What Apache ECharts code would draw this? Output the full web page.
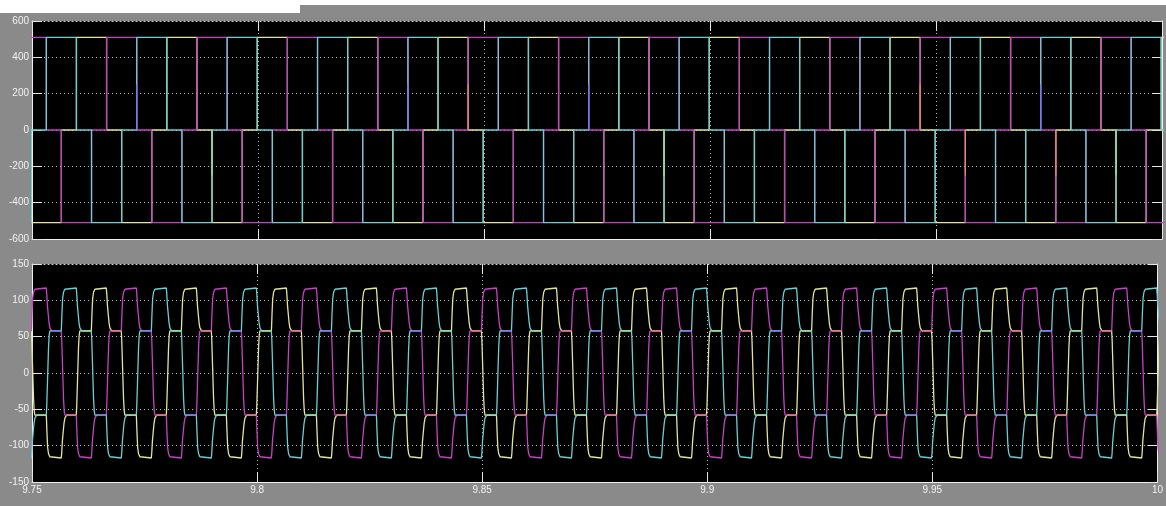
<!DOCTYPE html>
<html>
<head>
<meta charset="utf-8">
<script src="https://cdn.jsdelivr.net/npm/echarts/dist/echarts.min.js"></script>
<style>
  html, body { margin: 0; padding: 0; background: #8a8a8a; }
  #chart { width: 1166px; height: 506px; }
</style>
</head>
<body>
<div id="chart"></div>
<script>
// ---- data ----
// switching instants (s): boundaries between the six 60-degree intervals
const switchTimes = [
  9.74984,
  9.75317, 9.75650, 9.75983, 9.76317, 9.76650, 9.76983, 9.77317, 9.77650, 9.77983,
  9.78317, 9.78650, 9.78983, 9.79317, 9.79650, 9.79983, 9.80317, 9.80650, 9.80983,
  9.81317, 9.81650, 9.81983, 9.82317, 9.82650, 9.82983, 9.83317, 9.83650, 9.83983,
  9.84317, 9.84650, 9.84983, 9.85317, 9.85650, 9.85983, 9.86317, 9.86650, 9.86983,
  9.87317, 9.87650, 9.87983, 9.88317, 9.88650, 9.88983, 9.89317, 9.89650, 9.89983,
  9.90317, 9.90650, 9.90983, 9.91317, 9.91650, 9.91983, 9.92317, 9.92650, 9.92983,
  9.93317, 9.93650, 9.93983, 9.94317, 9.94650, 9.94983, 9.95317, 9.95650, 9.95983,
  9.96317, 9.96650, 9.96983, 9.97317, 9.97650, 9.97983, 9.98317, 9.98650, 9.98983,
  9.99317, 9.99650, 9.99983
];

// top panel: voltage levels (V), first value = level before first switch, then level after each switch
const vYellow = [0,
  -510,-510,0,510,510,0, -510,-510,0,510,510,0, -510,-510,0,510,510,0, -510,-510,0,510,510,0,
  -510,-510,0,510,510,0, -510,-510,0,510,510,0, -510,-510,0,510,510,0, -510,-510,0,510,510,0,
  -510,-510,0,510,510,0, -510,-510,0,510,510,0, -510,-510,0,510,510,0, -510,-510,0,510,510,0,
  -510,-510,0,510];
const vMagenta = [510,
  510,0,-510,-510,0,510, 510,0,-510,-510,0,510, 510,0,-510,-510,0,510, 510,0,-510,-510,0,510,
  510,0,-510,-510,0,510, 510,0,-510,-510,0,510, 510,0,-510,-510,0,510, 510,0,-510,-510,0,510,
  510,0,-510,-510,0,510, 510,0,-510,-510,0,510, 510,0,-510,-510,0,510, 510,0,-510,-510,0,510,
  510,0,-510,-510];
const vCyan = [-510,
  0,510,510,0,-510,-510, 0,510,510,0,-510,-510, 0,510,510,0,-510,-510, 0,510,510,0,-510,-510,
  0,510,510,0,-510,-510, 0,510,510,0,-510,-510, 0,510,510,0,-510,-510, 0,510,510,0,-510,-510,
  0,510,510,0,-510,-510, 0,510,510,0,-510,-510, 0,510,510,0,-510,-510, 0,510,510,0,-510,-510,
  0,510,510,0];

// short half-height switching spikes seen in the top panel (mixed colours)
const spikeTimes = [9.77317, 9.78983, 9.83317, 9.84650, 9.87317, 9.88983, 9.94650, 9.95650, 9.97317, 9.97650, 9.98983];
const spikeTips  = [250, -250, 250, 250, 250, -250, 250, -250, 250, -250, -250];
const spikeKind  = ['MC', 'CY', 'MC', 'MY', 'MC', 'CY', 'MY', 'MY', 'MC', 'MY', 'CY'];

// bottom panel: current levels (A)
const iYellow = [58,
  -58,-117,-58,58,117,58, -58,-117,-58,58,117,58, -58,-117,-58,58,117,58, -58,-117,-58,58,117,58,
  -58,-117,-58,58,117,58, -58,-117,-58,58,117,58, -58,-117,-58,58,117,58, -58,-117,-58,58,117,58,
  -58,-117,-58,58,117,58, -58,-117,-58,58,117,58, -58,-117,-58,58,117,58, -58,-117,-58,58,117,58,
  -58,-117,-58,58];
const iMagenta = [58,
  117,58,-58,-117,-58,58, 117,58,-58,-117,-58,58, 117,58,-58,-117,-58,58, 117,58,-58,-117,-58,58,
  117,58,-58,-117,-58,58, 117,58,-58,-117,-58,58, 117,58,-58,-117,-58,58, 117,58,-58,-117,-58,58,
  117,58,-58,-117,-58,58, 117,58,-58,-117,-58,58, 117,58,-58,-117,-58,58, 117,58,-58,-117,-58,58,
  117,58,-58,-117];
const iCyan = [-117,
  -58,58,117,58,-58,-117, -58,58,117,58,-58,-117, -58,58,117,58,-58,-117, -58,58,117,58,-58,-117,
  -58,58,117,58,-58,-117, -58,58,117,58,-58,-117, -58,58,117,58,-58,-117, -58,58,117,58,-58,-117,
  -58,58,117,58,-58,-117, -58,58,117,58,-58,-117, -58,58,117,58,-58,-117, -58,58,117,58,-58,-117,
  -58,58,117,58];

// edge shapes: time after switch (s) and fraction of the step done
const edgeOutDt   = [0, 0.00005, 0.00015, 0.0003, 0.0005, 0.0008, 0.0012];
const edgeOutFr   = [0, 0.10, 0.40, 0.75, 0.90, 0.97, 1];
const edgeInDt    = [0, 0.0001, 0.00025, 0.00045, 0.0006, 0.0008, 0.0012];
const edgeInFr    = [0, 0.12, 0.40, 0.63, 0.80, 0.93, 1];
const edgeCrossDt = [0, 0.0001, 0.0003, 0.0005, 0.00065, 0.0008];
const edgeCrossFr = [0, 0.10, 0.45, 0.80, 0.95, 1];

// axis ticks
const xTicks = [9.75, 9.8, 9.85, 9.9, 9.95, 10];
const vTicks = [-600, -400, -200, 0, 200, 400, 600];
const iTicks = [-150, -100, -50, 0, 50, 100, 150];

const colYellow = '#e4e49a';
const colMagenta = '#c444c4';
const colCyan = '#6ccfd2';
// colours where two traces lie on top of each other
const mixCols = { MC: '#7474f0', MY: '#ec8070', CY: '#92e292' };

// ---- building the tables for the library ----
function stepPoints(times, levels) {
  const pts = [[times[0] - 0.002, levels[0]]];
  for (let k = 0; k < times.length; k++) {
    pts.push([times[k], levels[k]]);
    pts.push([times[k], levels[k + 1]]);
  }
  pts.push([10.002, levels[levels.length - 1]]);
  return pts;
}
function currentPoints(times, levels) {
  const pts = [[times[0] - 0.002, levels[0]]];
  for (let k = 0; k < times.length; k++) {
    const a = levels[k], b = levels[k + 1];
    if (a === b) continue;
    let dt, fr;
    if (Math.abs(b - a) > 80) { dt = edgeCrossDt; fr = edgeCrossFr; }
    else if (Math.abs(b) > Math.abs(a)) { dt = edgeOutDt; fr = edgeOutFr; }
    else { dt = edgeInDt; fr = edgeInFr; }
    for (let i = 0; i < dt.length; i++) pts.push([times[k] + dt[i], a + (b - a) * fr[i]]);
  }
  pts.push([10.002, levels[levels.length - 1]]);
  return pts;
}
// flat stretches where two currents share the same level, grouped by colour mix
function overlapPoints(times, kind) {
  const pts = [];
  for (let k = 0; k < times.length; k++) {
    const t0 = times[k] + 0.0012;
    const t1 = k + 1 < times.length ? times[k + 1] : 10;
    const y = iYellow[k + 1], m = iMagenta[k + 1], c = iCyan[k + 1];
    let lvl = null, kd = null;
    if (m === c) { lvl = m; kd = 'MC'; }
    else if (m === y) { lvl = m; kd = 'MY'; }
    else if (c === y) { lvl = c; kd = 'CY'; }
    if (kd === kind && t1 > t0) { pts.push([t0, lvl], [t1, lvl], [t1, '-']); }
  }
  return pts;
}
function spikePoints(kind) {
  const pts = [];
  spikeTimes.forEach((t, i) => {
    if (spikeKind[i] === kind) pts.push([t, 0], [t, spikeTips[i]], [t, '-']);
  });
  return pts;
}

const labelStyle = { color: '#f2f2f2', fontSize: 10, fontFamily: 'Liberation Sans, Arial, sans-serif' };
const tickStyle = { color: '#e6e6e6', width: 1 };
const dotStyle = { color: '#bdbdbd', width: 1, type: [1, 3] };

function xAxes(grid, showLabels) {
  return [
    { type: 'value', gridIndex: grid, position: 'bottom', min: xTicks[0], max: xTicks[xTicks.length - 1], interval: 0.05,
      axisLine: { show: true, onZero: false, lineStyle: { color: '#f0f0f0', width: 1 } },
      axisTick: { show: true, inside: true, length: 10, lineStyle: tickStyle },
      axisLabel: Object.assign({ show: showLabels, margin: 3, showMinLabel: true, showMaxLabel: true,
        formatter: v => String(+v.toFixed(2)) }, labelStyle),
      splitLine: { show: true, lineStyle: dotStyle } },
    { type: 'value', gridIndex: grid, position: 'top', min: xTicks[0], max: xTicks[xTicks.length - 1], interval: 0.05,
      axisLine: { show: true, onZero: false, lineStyle: { color: '#d8d8d8', width: 1, type: [1, 3] } },
      axisTick: { show: true, inside: true, length: 10, lineStyle: tickStyle },
      axisLabel: { show: false }, splitLine: { show: false } }
  ];
}
function yAxes(grid, ticks) {
  const mn = ticks[0], mx = ticks[ticks.length - 1], iv = ticks[1] - ticks[0];
  return [
    { type: 'value', gridIndex: grid, position: 'left', min: mn, max: mx, interval: iv,
      axisLine: { show: true, onZero: false, lineStyle: { color: '#f0f0f0', width: 1 } },
      axisTick: { show: true, inside: true, length: 10, lineStyle: tickStyle },
      axisLabel: Object.assign({ show: true, margin: 3 }, labelStyle),
      splitLine: { show: true, lineStyle: dotStyle } },
    { type: 'value', gridIndex: grid, position: 'right', min: mn, max: mx, interval: iv,
      axisLine: { show: true, onZero: false, lineStyle: { color: '#f0f0f0', width: 1 } },
      axisTick: { show: true, inside: true, length: 10, lineStyle: tickStyle },
      axisLabel: { show: false }, splitLine: { show: false } }
  ];
}
function lineSeries(name, data, color, xi, yi, z) {
  return { name, type: 'line', data, xAxisIndex: xi, yAxisIndex: yi, z: z || 2,
    showSymbol: false, symbol: 'none', animation: false, clip: true, sampling: false,
    connectNulls: false, lineStyle: { color, width: 1.3 } };
}

const series = [
  lineSeries('v1', stepPoints(switchTimes, vYellow), colYellow, 0, 0),
  lineSeries('v2', stepPoints(switchTimes, vMagenta), colMagenta, 0, 0),
  lineSeries('v3', stepPoints(switchTimes, vCyan), colCyan, 0, 0),
  lineSeries('i1', currentPoints(switchTimes, iYellow), colYellow, 2, 2),
  lineSeries('i2', currentPoints(switchTimes, iMagenta), colMagenta, 2, 2),
  lineSeries('i3', currentPoints(switchTimes, iCyan), colCyan, 2, 2)
];
['MC', 'MY', 'CY'].forEach(kd => {
  series.push(lineSeries('spk' + kd, spikePoints(kd), mixCols[kd], 0, 0, 3));
  series.push(lineSeries('ovl' + kd, overlapPoints(switchTimes, kd), mixCols[kd], 2, 2, 3));
});

const chart = echarts.init(document.getElementById('chart'), null, { renderer: 'canvas' });
chart.setOption({
  backgroundColor: '#8a8a8a',
  animation: false,
  graphic: [
    { type: 'rect', shape: { x: 0, y: 0, width: 1166, height: 5 }, style: { fill: '#ffffff' }, z: 100 },
    { type: 'rect', shape: { x: 0, y: 0, width: 300, height: 13 }, style: { fill: '#ffffff' }, z: 100 }
  ],
  grid: [
    { left: 32, right: 4, top: 21, height: 218, show: true, backgroundColor: '#000000', borderWidth: 0 },
    { left: 32, right: 4, top: 264, height: 218, show: true, backgroundColor: '#000000', borderWidth: 0 }
  ],
  xAxis: [].concat(xAxes(0, false), xAxes(1, true)),
  yAxis: [].concat(yAxes(0, vTicks), yAxes(1, iTicks)),
  series
});
</script>
</body>
</html>
